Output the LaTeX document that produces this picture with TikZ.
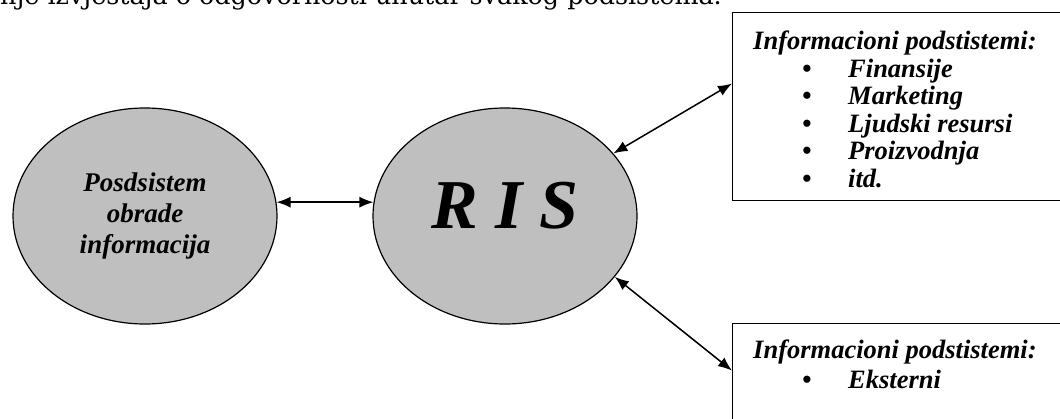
\documentclass[tikz,border=0pt]{standalone}
\usepackage{fontspec}
\setmainfont{Liberation Serif}
\newfontfamily\headfont{DejaVu Serif}
\usetikzlibrary{arrows.meta,shapes.geometric}
\tikzset{blob/.style={ellipse,draw=black,fill=black!25,line width=1.2pt,inner sep=0pt,
    minimum width=264pt,minimum height=216pt,align=center},
  panel/.style={draw=black,line width=1.2pt,inner sep=0pt},
  boxtext/.style={anchor=base west,inner sep=0pt,font=\fontsize{26.5}{30}\selectfont\bfseries\itshape},
  dot/.style={anchor=base,inner sep=0pt,font=\fontsize{26.5}{30}\selectfont\bfseries},
  link/.style={{Latex[length=14pt,width=11pt]}-{Latex[length=14pt,width=11pt]},line width=1.5pt}}

\begin{document}
\begin{tikzpicture}[x=1pt,y=-1pt]
  \useasboundingbox (0,0) rectangle (1060,418);
  \node[anchor=base west,inner sep=0pt,font=\fontsize{25.4}{30}\selectfont\headfont] (head) at (0,4)
    {nje izvještaja o odgovornosti unutar svakog podsistema.};
  % the two ellipses
  \node[blob,font=\fontsize{27}{31}\selectfont\bfseries\itshape] (pod) at (145,216)
    {Posdsistem\\obrade\\informacija};
  \node[blob,font=\fontsize{70}{80}\selectfont\bfseries\itshape,text depth=22pt] (ris) at (505,216) {R I S};
  % the boxes
  \node[panel,minimum width=340pt,minimum height=188pt,anchor=north west] (finbox) at (732,12) {};
  \node[boxtext] (fintitle) at (753,49) {Informacioni podstistemi:};
  \foreach \name/\txt [count=\i from 0] in {fin/Finansije,mkt/Marketing,lju/Ljudski resursi,pro/Proizvodnja,itd/itd.} {
    \node[dot] (\name dot) at (807,77+27.5*\i) {\textbullet};
    \node[boxtext] (\name) at (848,77+27.5*\i) {\txt};
  }
  \node[panel,minimum width=340pt,minimum height=104pt,anchor=north west] (extbox) at (732,323) {};
  \node[boxtext] (exttitle) at (753,358) {Informacioni podstistemi:};
  \node[dot] (ekdot) at (807,388) {\textbullet};
  \node[boxtext] (ek) at (848,388) {Eksterni};
  % connectors
  \draw[link] (pod.6) -- (ris.174);
  \draw[link] (ris.30) -- ([yshift=23pt]finbox.west);
  \draw[link] (ris.-29) -- ([yshift=5pt]extbox.west);
\end{tikzpicture}
\end{document}
